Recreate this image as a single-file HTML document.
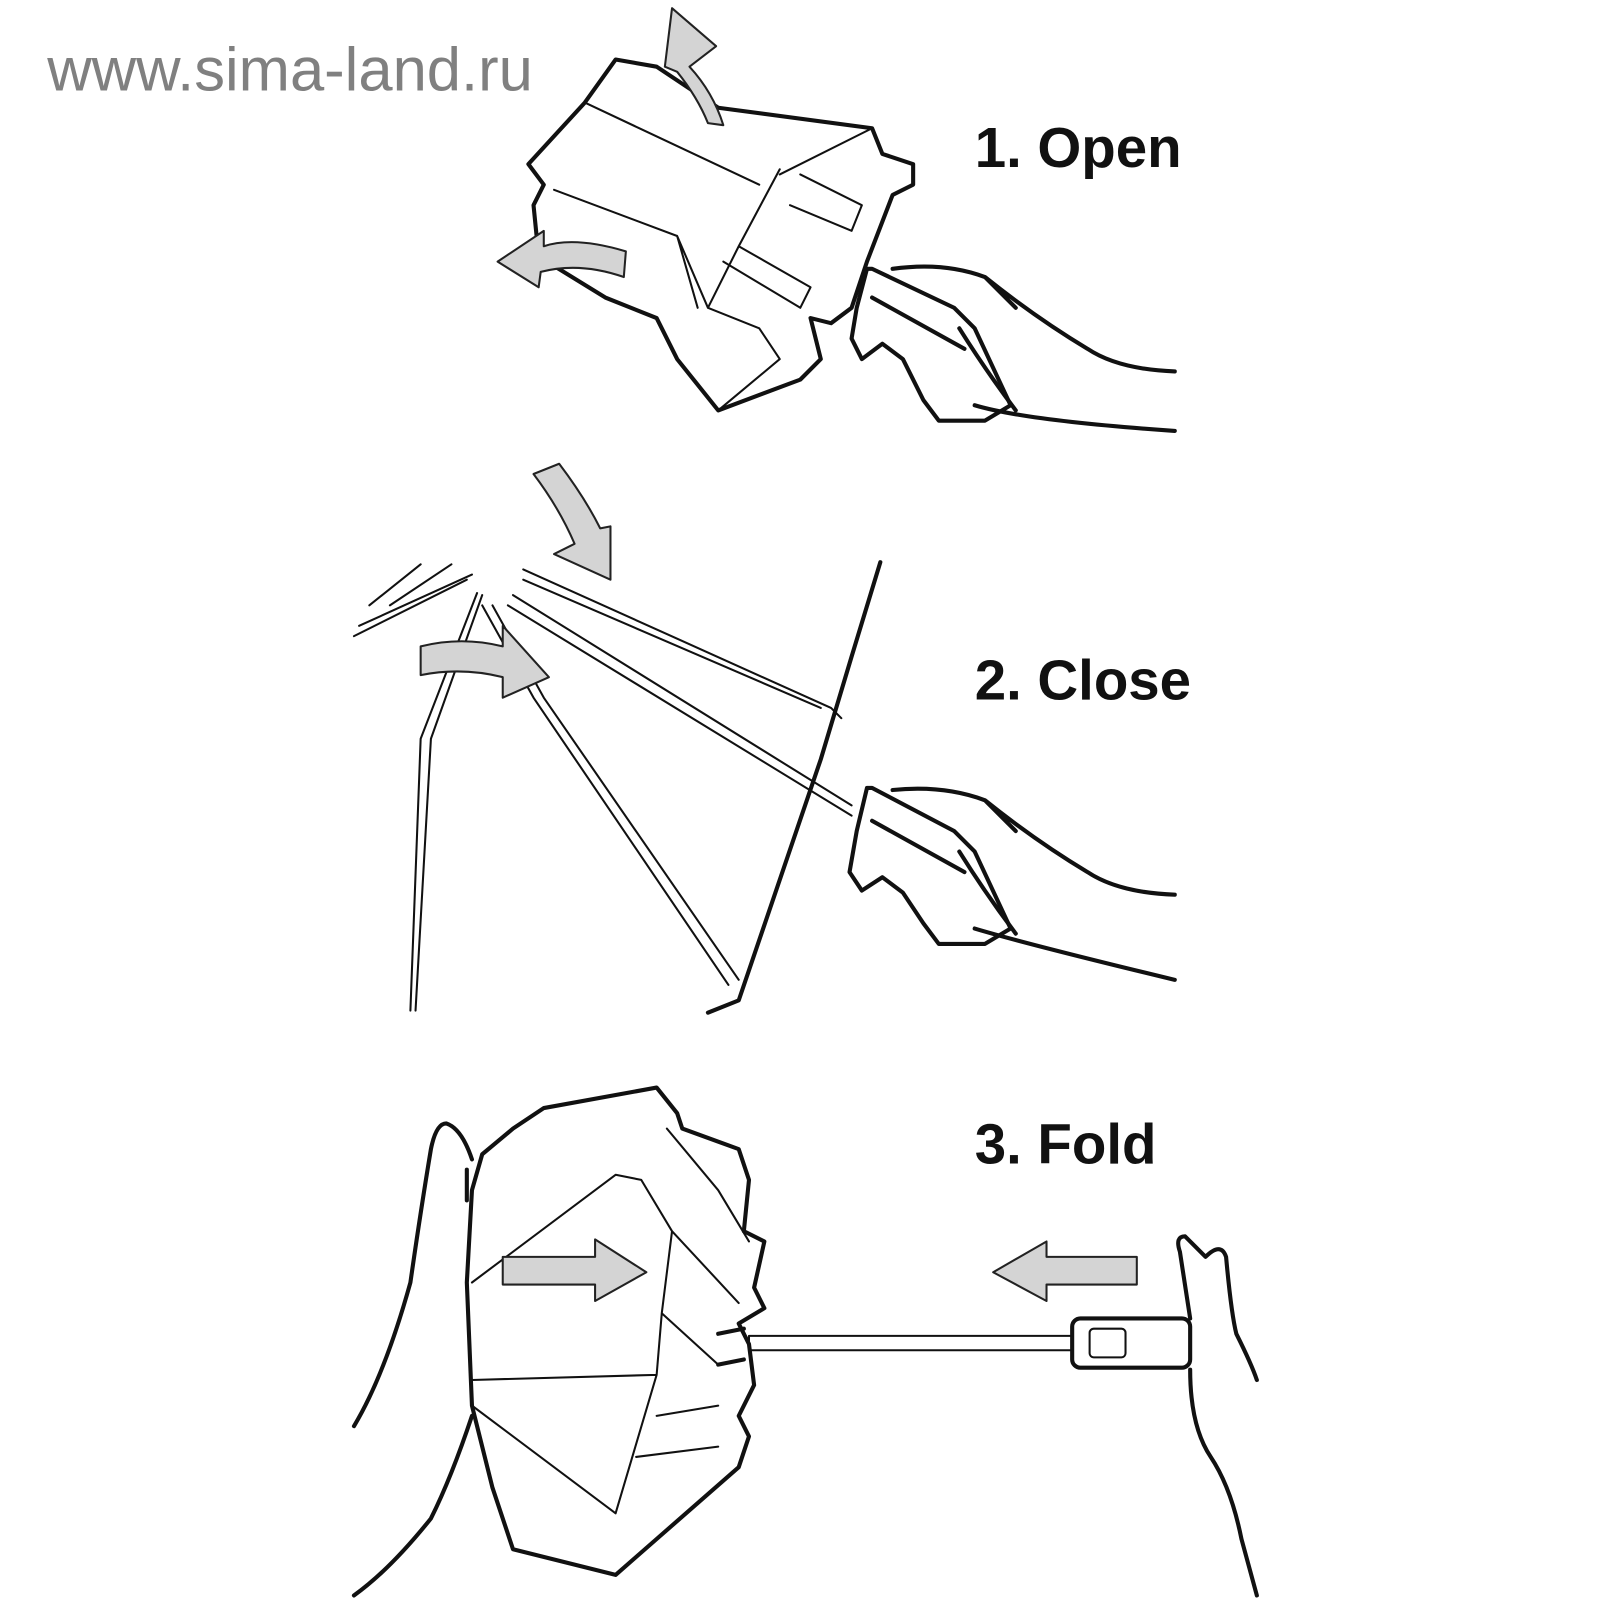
<!DOCTYPE html>
<html><head><meta charset="utf-8"><style>
html,body{margin:0;padding:0;background:#fff;}
svg{display:block}
.l{fill:none;stroke:#111;stroke-width:4;stroke-linejoin:round;stroke-linecap:round}
.t{fill:none;stroke:#111;stroke-width:2;stroke-linejoin:round;stroke-linecap:round}
.w{fill:#fff;stroke:#111;stroke-width:4;stroke-linejoin:round}
.a{fill:#d4d4d4;stroke:#222;stroke-width:2;stroke-linejoin:round}
</style></head><body>
<svg width="1600" height="1600" viewBox="0 0 1600 1600" xmlns="http://www.w3.org/2000/svg">
<g transform="scale(1.026)">
<text x="46" y="88" font-family="Liberation Sans, sans-serif" font-size="60" fill="#808080">www.sima-land.ru</text>
<text x="950" y="163" font-family="Liberation Sans, sans-serif" font-weight="bold" font-size="55" fill="#111">1. Open</text>
<text x="950" y="682" font-family="Liberation Sans, sans-serif" font-weight="bold" font-size="55" fill="#111">2. Close</text>
<text x="950" y="1134" font-family="Liberation Sans, sans-serif" font-weight="bold" font-size="55" fill="#111">3. Fold</text>

<!-- Panel 1 umbrella -->
<path class="w" d="M530,180 L520,200 L525,250 L590,290 L640,310 L660,350 L700,400 L780,370 L800,350 L790,310 L810,315 L830,300 L845,255 L870,190 L890,180 L890,160 L860,150 L850,125 L700,105 L640,65 L600,58 L570,100 L515,160 Z"/>
<path class="t" d="M570,100 L740,180 M540,185 L660,230 L690,300 L740,320 L760,350 L700,400 M660,230 L680,300 M760,165 L720,240 L690,300 M850,125 L760,170 M780,170 L840,200 L830,225 L770,200 M720,240 L790,280 L780,300 L705,255"/>
<path class="a" d="M705,122 Q695,90 672,65 L698,45 L655,8 L648,65 L660,70 Q680,95 690,120 Z"/>
<path class="a" d="M610,245 Q560,230 530,240 L530,225 L485,255 L525,280 L527,265 Q565,255 608,270 Z"/>
<!-- hand 1 -->
<path class="w" d="M845,262 L835,300 L830,330 L840,350 L860,335 L880,350 L900,390 L915,410 L960,410 L985,395 L950,320 L930,300 L850,262 Z"/>
<path class="l" d="M870,262 Q920,255 960,270 L990,300 M960,270 Q1010,310 1060,340 Q1090,360 1145,362 M935,320 Q960,360 990,400 M950,395 Q1000,410 1145,420 M850,290 L940,340"/>

<!-- Panel 2 -->
<path class="t" d="M510,555 L810,690 L820,700 M510,565 L800,690 M500,580 L830,785 M495,590 L830,795 M470,580 L420,720 L405,985 M465,578 L410,720 L400,985 M470,590 L520,680 L710,960 M480,590 L530,680 L720,955 M460,560 L350,610 M455,565 L345,620 M440,550 L380,590 M410,550 L360,590"/>
<path class="l" d="M858,548 L830,640 L800,740 L720,975 L690,987"/>
<path class="a" d="M520,462 L545,452 Q570,485 585,515 L595,513 L595,565 L540,540 L560,530 Q545,495 520,462 Z"/>
<path class="a" d="M410,630 Q450,620 490,630 L490,610 L535,660 L490,680 L490,660 Q450,650 410,658 Z"/>
<path class="w" d="M845,768 L835,810 L828,850 L840,868 L860,855 L880,870 L900,900 L915,920 L960,920 L985,905 L950,830 L930,810 L850,768 Z"/>
<path class="l" d="M870,770 Q920,765 960,780 L990,810 M960,780 Q1010,820 1060,850 Q1090,870 1145,872 M935,830 Q960,870 990,910 M950,905 Q1000,920 1145,955 M850,800 L940,850"/>

<!-- Panel 3 umbrella -->
<path class="w" d="M470,1125 L460,1160 L455,1250 L460,1370 L480,1450 L500,1510 L600,1535 L640,1500 L720,1430 L730,1400 L720,1380 L735,1350 L730,1310 L720,1290 L745,1275 L735,1255 L745,1210 L725,1200 L730,1150 L720,1120 L665,1100 L660,1085 L640,1060 L530,1080 L500,1100 Z"/>
<path class="t" d="M460,1250 L600,1145 L625,1150 L655,1200 L645,1280 L640,1340 L460,1345 M460,1370 L600,1475 L640,1340 M655,1200 L720,1270 M645,1280 L700,1330 M650,1100 L700,1160 L730,1210 M640,1380 L700,1370 M620,1420 L700,1410"/>
<path class="l" d="M700,1300 L725,1295 M700,1330 L725,1325"/>
<rect x="730" y="1302" width="320" height="14" class="t" fill="#fff"/>
<rect x="1045" y="1285" width="115" height="48" rx="8" class="w"/>
<rect x="1062" y="1295" width="35" height="28" rx="4" class="t"/>
<path class="a" d="M490,1225 L580,1225 L580,1208 L630,1240 L580,1268 L580,1252 L490,1252 Z"/>
<path class="a" d="M1108,1225 L1020,1225 L1020,1210 L968,1240 L1020,1268 L1020,1252 L1108,1252 Z"/>
<!-- hands 3 -->
<path class="l" d="M460,1130 Q450,1100 435,1095 Q425,1095 420,1120 Q410,1180 400,1250 Q375,1340 345,1390 M455,1140 L455,1170 M460,1380 Q440,1440 420,1480 Q380,1530 345,1555"/>
<path class="l" d="M1160,1285 L1150,1220 Q1145,1205 1155,1205 Q1165,1215 1175,1225 Q1190,1210 1195,1225 Q1200,1280 1205,1300 Q1220,1330 1225,1345 M1160,1335 Q1160,1390 1180,1420 Q1200,1450 1210,1500 L1225,1555"/>
</g>
</svg>
</body></html>
